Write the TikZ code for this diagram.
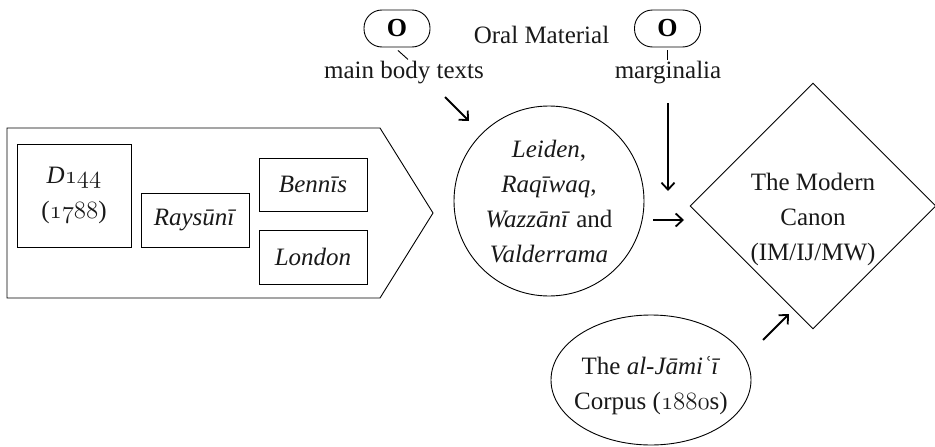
\documentclass[tikz,border=0pt]{standalone}
\usepackage{fontspec}
\setmainfont{Liberation Serif}
\usetikzlibrary{shapes.geometric,arrows.meta}
% old-style figures taken from the math italic font
\newcommand{\osn}[1]{{\usefont{OML}{cmm}{m}{it}\fontsize{26}{35}\selectfont #1}}
\begin{document}
\begin{tikzpicture}[x=1pt,y=-1pt,
  txt/.style={align=center,inner sep=0pt,text=black!90,font=\fontsize{25}{35}\selectfont},
  msbox/.style={draw,line width=0.9pt,txt},
  oral/.style={draw,line width=0.9pt,rounded corners=18pt,minimum width=66pt,minimum height=37pt,inner sep=0pt,font=\fontsize{26}{28}\selectfont\bfseries},
  thin/.style={line width=0.9pt},
  arr/.style={line width=1.8pt,-{Straight Barb[length=7pt,width=13pt,line width=1.8pt]}}]
\useasboundingbox (0,0) rectangle (935,447);

% manuscript group (pentagon)
\draw[thin,line join=miter] (7,128) -- (380,128) -- (433,213) -- (380,298) -- (7,298) -- cycle;
\node[msbox,minimum width=114pt,minimum height=103pt] (d144) at (74,195.5) {\textit{D}\osn{144}\\(\osn{1788})};
\node[msbox,minimum width=108pt,minimum height=54pt] (raysuni) at (195,220) {\textit{Raysūnī}};
\node[msbox,minimum width=108pt,minimum height=53pt] (bennis) at (313,184.5) {\textit{Bennīs}};
\node[msbox,minimum width=108pt,minimum height=54pt] (london) at (313,257) {\textit{London}};

% oral material
\node[oral] (oleft) at (397,28.5) {O};
\node[oral] (oright) at (667.5,28.5) {O};
\node[txt] (oralmat) at (541.5,35) {Oral Material};
\node[txt] (mainbody) at (404,73) {main body texts};
\node[txt] (marg) at (668,73) {marginalia};
\draw[thin] (oleft.south) ++(1,3) -- ++(10,9);
\draw[thin] (oright.south) ++(0,3) -- ++(0,10);

% sources
\node[draw,thin,circle,minimum size=190pt,inner sep=0pt] (leiden) at (549,201) {};
\node[txt] (leidentext) at (549,202) {\textit{Leiden},\\\textit{Raqīwaq},\\\textit{Wazzānī} and\\\textit{Valderrama}};

\node[draw,thin,diamond,minimum width=246pt,minimum height=246pt,inner sep=0pt] (canon) at (813,206) {};
\node[txt] (canontext) at (813,219) {The Modern\\Canon\\(IM/IJ/MW)};

\node[draw,thin,ellipse,minimum width=200pt,minimum height=130pt,inner sep=0pt] (jami) at (651,380) {};
\node[txt] (jamitext) at (651,386) {The \textit{al-Jāmiʿī}\\Corpus (\osn{1880}s)};

% connectors
\coordinate (a1s) at (445,97);  \coordinate (a1e) at (469,121);
\coordinate (a2s) at (668,103); \coordinate (a2e) at (668,191);
\coordinate (a3s) at (653,220); \coordinate (a3e) at (684,220);
\coordinate (a4s) at (763,340); \coordinate (a4e) at (789,314);
\draw[arr] (a1s) -- (a1e);
\draw[arr] (a2s) -- (a2e);
\draw[arr] (a3s) -- (a3e);
\draw[arr] (a4s) -- (a4e);
\end{tikzpicture}
\end{document}
